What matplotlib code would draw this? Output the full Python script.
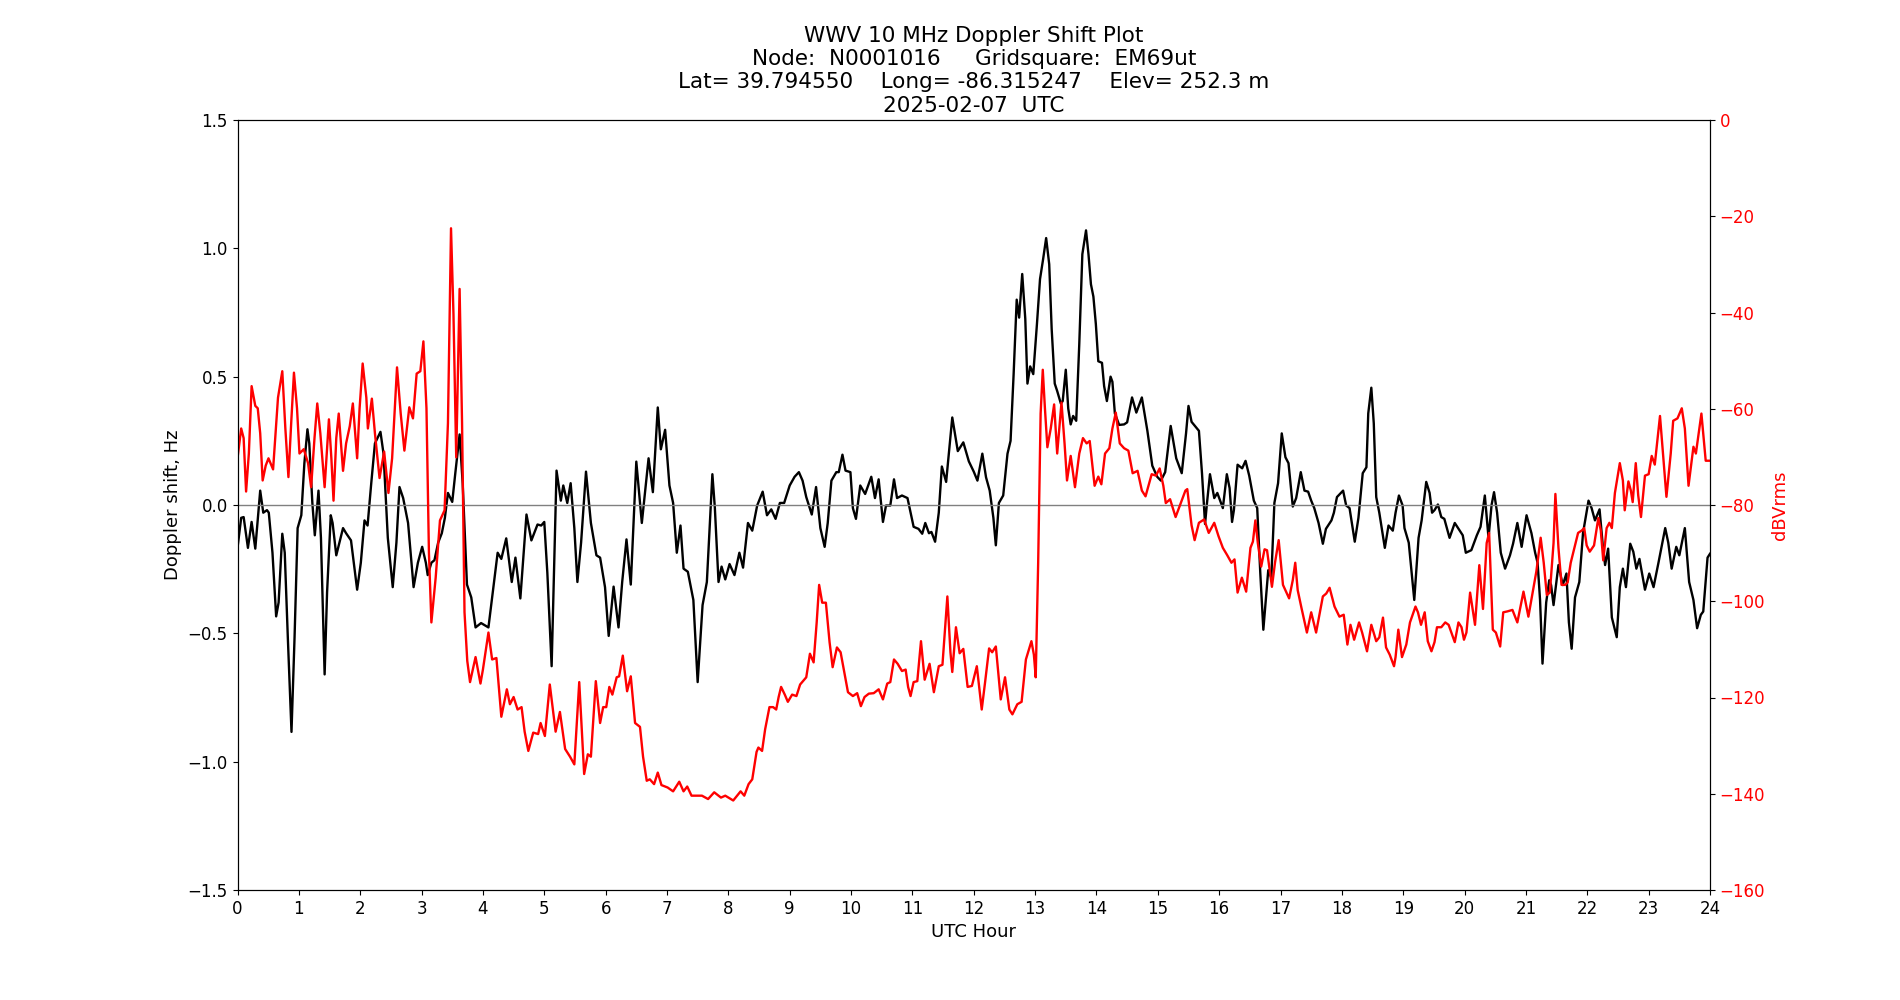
import matplotlib
matplotlib.use("Agg")
import matplotlib.pyplot as plt

# ---------------- data ----------------
doppler_hours = [
    0.0, 0.06, 0.1, 0.17, 0.23, 0.29, 0.37, 0.42, 0.48, 0.51, 0.57, 0.63, 0.67, 0.73, 0.77, 0.82, 0.88, 0.93, 0.98,
    1.04, 1.09, 1.14, 1.17, 1.22, 1.26, 1.32, 1.36, 1.42, 1.46, 1.52, 1.55, 1.61, 1.66, 1.72, 1.77, 1.85, 1.95,
    2.01, 2.07, 2.12, 2.18, 2.24, 2.33, 2.38, 2.45, 2.53, 2.59, 2.64, 2.7, 2.78, 2.87, 2.94,
    3.01, 3.07, 3.1, 3.16, 3.21, 3.27, 3.33, 3.38, 3.43, 3.5, 3.55, 3.62, 3.67, 3.74, 3.81, 3.88, 3.97,
    4.04, 4.09, 4.17, 4.24, 4.3, 4.38, 4.47, 4.53, 4.61, 4.71, 4.79, 4.89, 4.95,
    5.0, 5.05, 5.12, 5.2, 5.27, 5.31, 5.375, 5.43, 5.49, 5.54, 5.6, 5.68, 5.76, 5.85, 5.91, 5.99,
    6.05, 6.13, 6.21, 6.27, 6.34, 6.41, 6.5, 6.59, 6.7, 6.77, 6.85, 6.9, 6.97,
    7.04, 7.1, 7.16, 7.22, 7.27, 7.34, 7.43, 7.5, 7.58, 7.65, 7.74, 7.78, 7.84, 7.89, 7.95,
    8.02, 8.1, 8.18, 8.24, 8.32, 8.39, 8.47, 8.56, 8.63, 8.7, 8.77, 8.84, 8.91,
    9.0, 9.08, 9.15, 9.21, 9.27, 9.36, 9.43, 9.5, 9.57, 9.62, 9.68, 9.76, 9.8, 9.86, 9.91, 9.99,
    10.03, 10.08, 10.15, 10.23, 10.33, 10.39, 10.45, 10.52, 10.57, 10.64, 10.7, 10.75, 10.83, 10.92, 10.97,
    11.02, 11.1, 11.16, 11.21, 11.27, 11.31, 11.37, 11.43, 11.48, 11.55, 11.65, 11.74, 11.83, 11.92,
    12.0, 12.06, 12.14, 12.2, 12.26, 12.32, 12.36, 12.41, 12.48, 12.55, 12.6, 12.65, 12.7, 12.74, 12.79, 12.84,
    12.875, 12.92, 12.97, 13.03, 13.08, 13.13, 13.18, 13.23, 13.27, 13.32, 13.36, 13.42, 13.45, 13.5, 13.54,
    13.58, 13.62, 13.67, 13.72, 13.77, 13.83, 13.87, 13.91, 13.95, 13.99, 14.03, 14.09, 14.125, 14.17, 14.23,
    14.26, 14.3, 14.37, 14.45, 14.5, 14.58, 14.65, 14.74, 14.83, 14.91, 14.99, 15.05, 15.12, 15.21, 15.3, 15.39,
    15.46, 15.5, 15.55, 15.67, 15.72, 15.77, 15.8, 15.85, 15.92, 15.97,
    16.06, 16.125, 16.17, 16.21, 16.24, 16.3, 16.375, 16.43, 16.49, 16.565, 16.62, 16.67, 16.72, 16.77, 16.8,
    16.85, 16.9, 16.96, 17.02, 17.08, 17.13, 17.2, 17.255, 17.33, 17.39, 17.45, 17.5, 17.55, 17.62, 17.69, 17.74,
    17.83, 17.87, 17.92, 18.02, 18.07, 18.125, 18.21, 18.27, 18.34, 18.4, 18.43, 18.48, 18.52, 18.56, 18.61,
    18.7, 18.76, 18.83, 18.875, 18.93, 18.99, 19.02, 19.09, 19.18, 19.25, 19.3, 19.375, 19.43, 19.47, 19.51,
    19.565, 19.62, 19.67, 19.755, 19.84, 19.92, 19.97,
    20.02, 20.11, 20.2, 20.26, 20.33, 20.39, 20.44, 20.48, 20.53, 20.59, 20.66, 20.74, 20.79, 20.86, 20.93,
    21.01, 21.09, 21.15, 21.19, 21.23, 21.27, 21.33, 21.38, 21.41, 21.45, 21.53, 21.6, 21.66, 21.7, 21.745, 21.8,
    21.87, 21.93, 22.02, 22.07, 22.125, 22.2, 22.25, 22.29, 22.34, 22.4, 22.48, 22.53, 22.58, 22.63, 22.7, 22.75,
    22.8, 22.85, 22.94, 23.01, 23.08, 23.16, 23.27, 23.32, 23.375, 23.45, 23.5, 23.59, 23.66, 23.73, 23.79,
    23.85, 23.89, 23.96, 24.0,
]
doppler_hz = [
    -0.167, -0.05, -0.047, -0.167, -0.066, -0.17, 0.056, -0.03, -0.02, -0.03, -0.186, -0.434, -0.38, -0.112, -0.186, -0.515, -0.884, -0.515, -0.09,
    -0.04, 0.163, 0.295, 0.24, 0.008, -0.118, 0.056, -0.128, -0.66, -0.34, -0.04, -0.07, -0.196, -0.147, -0.09, -0.11, -0.138, -0.33,
    -0.225, -0.06, -0.08, 0.085, 0.24, 0.285, 0.2, -0.128, -0.32, -0.147, 0.07, 0.027, -0.07, -0.32, -0.225,
    -0.163, -0.225, -0.273, -0.225, -0.215, -0.147, -0.11, -0.05, 0.047, 0.012, 0.124, 0.275, 0.085, -0.31, -0.36, -0.477, -0.46,
    -0.47, -0.477, -0.32, -0.186, -0.21, -0.13, -0.3, -0.205, -0.364, -0.037, -0.138, -0.076, -0.08,
    -0.066, -0.264, -0.628, 0.134, 0.017, 0.076, 0.008, 0.085, -0.09, -0.3, -0.147, 0.13, -0.07, -0.196, -0.205, -0.32,
    -0.51, -0.318, -0.477, -0.3, -0.134, -0.31, 0.169, -0.07, 0.182, 0.05, 0.38, 0.217, 0.293,
    0.076, 0.008, -0.186, -0.08, -0.248, -0.26, -0.37, -0.69, -0.39, -0.3, 0.12, -0.01, -0.3, -0.24, -0.29,
    -0.23, -0.273, -0.186, -0.244, -0.07, -0.1, -0.002, 0.052, -0.04, -0.017, -0.054, 0.008, 0.008,
    0.076, 0.11, 0.128, 0.095, 0.031, -0.037, 0.07, -0.09, -0.163, -0.07, 0.095, 0.128, 0.128, 0.196, 0.134, 0.128,
    -0.012, -0.054, 0.076, 0.043, 0.11, 0.027, 0.1, -0.066, -0.002, -0.002, 0.1, 0.027, 0.037, 0.027, -0.03,
    -0.085, -0.093, -0.112, -0.07, -0.11, -0.105, -0.143, -0.03, 0.15, 0.09, 0.341, 0.21, 0.244, 0.17,
    0.13, 0.095, 0.2, 0.108, 0.056, -0.05, -0.157, 0.008, 0.037, 0.2, 0.25, 0.51, 0.8, 0.73, 0.9, 0.725,
    0.473, 0.54, 0.51, 0.705, 0.88, 0.957, 1.04, 0.938, 0.686, 0.473, 0.444, 0.395, 0.405, 0.527, 0.376,
    0.314, 0.347, 0.328, 0.628, 0.977, 1.07, 0.977, 0.86, 0.812, 0.705, 0.56, 0.554, 0.463, 0.405, 0.5,
    0.48, 0.357, 0.312, 0.314, 0.322, 0.419, 0.36, 0.419, 0.289, 0.153, 0.11, 0.095, 0.128, 0.308, 0.182, 0.124,
    0.279, 0.386, 0.324, 0.289, 0.124, -0.074, 0.004, 0.12, 0.027, 0.047,
    -0.012, 0.12, 0.066, -0.066, -0.02, 0.157, 0.143, 0.172, 0.114, 0.017, -0.012, -0.264, -0.486, -0.34, -0.254,
    -0.283, 0.008, 0.085, 0.279, 0.186, 0.163, -0.006, 0.027, 0.128, 0.056, 0.052, 0.017, -0.012, -0.07, -0.151, -0.093,
    -0.06, -0.03, 0.031, 0.056, -0.002, -0.012, -0.143, -0.05, 0.124, 0.147, 0.357, 0.457, 0.318, 0.031, -0.03,
    -0.167, -0.08, -0.1, -0.03, 0.037, -0.002, -0.09, -0.147, -0.37, -0.128, -0.06, 0.09, 0.047, -0.03, -0.02,
    0.002, -0.047, -0.054, -0.128, -0.07, -0.1, -0.118,
    -0.186, -0.176, -0.118, -0.085, 0.037, -0.128, 0.0, 0.05, -0.03, -0.186, -0.248, -0.196, -0.151, -0.07, -0.163,
    -0.04, -0.11, -0.186, -0.225, -0.37, -0.618, -0.38, -0.293, -0.312, -0.39, -0.234, -0.312, -0.267, -0.457, -0.56, -0.36,
    -0.3, -0.11, 0.017, -0.012, -0.06, -0.017, -0.151, -0.234, -0.17, -0.438, -0.515, -0.32, -0.248, -0.32, -0.151, -0.182,
    -0.248, -0.21, -0.33, -0.267, -0.32, -0.225, -0.09, -0.147, -0.248, -0.163, -0.196, -0.09, -0.3, -0.37, -0.48,
    -0.428, -0.415, -0.205, -0.19,
]

power_hours = [
    0.0, 0.06, 0.1, 0.14, 0.185, 0.23, 0.29, 0.33, 0.37, 0.41, 0.46, 0.505, 0.58, 0.66, 0.73, 0.78, 0.83, 0.875, 0.92, 0.97,
    1.01, 1.08, 1.15, 1.2, 1.255, 1.3, 1.35, 1.42, 1.49, 1.53, 1.565, 1.61, 1.65, 1.72, 1.77, 1.83, 1.88, 1.95, 1.99,
    2.04, 2.1, 2.125, 2.19, 2.24, 2.315, 2.39, 2.46, 2.52, 2.6, 2.66, 2.72, 2.8, 2.86, 2.92, 2.98,
    3.03, 3.08, 3.12, 3.16, 3.23, 3.3, 3.375, 3.43, 3.48, 3.52, 3.565, 3.62, 3.66, 3.7, 3.745, 3.79, 3.88, 3.96,
    4.0, 4.09, 4.15, 4.22, 4.3, 4.39, 4.44, 4.5, 4.565, 4.63, 4.68, 4.74, 4.82, 4.9, 4.94,
    5.01, 5.09, 5.185, 5.255, 5.34, 5.42, 5.49, 5.57, 5.65, 5.71, 5.76, 5.84, 5.91, 5.96,
    6.01, 6.06, 6.11, 6.18, 6.22, 6.28, 6.35, 6.41, 6.48, 6.56, 6.61, 6.67, 6.72, 6.79, 6.85, 6.91,
    7.01, 7.1, 7.2, 7.27, 7.33, 7.4, 7.57, 7.67, 7.77, 7.88, 7.95,
    8.08, 8.2, 8.26, 8.33, 8.39, 8.46, 8.49, 8.55, 8.6, 8.67, 8.73, 8.78, 8.82, 8.86, 8.92, 8.97,
    9.04, 9.11, 9.17, 9.27, 9.33, 9.39, 9.44, 9.48, 9.53, 9.59, 9.65, 9.7, 9.77, 9.83, 9.89, 9.95,
    10.03, 10.1, 10.16, 10.22, 10.29, 10.37, 10.45, 10.52, 10.59, 10.64, 10.7, 10.76, 10.83, 10.89, 10.93, 10.97,
    11.02, 11.08, 11.14, 11.2, 11.28, 11.35, 11.43, 11.49, 11.57, 11.62, 11.65, 11.71, 11.77, 11.83, 11.9, 11.97,
    12.05, 12.13, 12.185, 12.25, 12.3, 12.36, 12.44, 12.51, 12.58, 12.63, 12.71, 12.78, 12.85, 12.94, 12.98,
    13.01, 13.05, 13.09, 13.125, 13.16, 13.2, 13.255, 13.31, 13.36, 13.43, 13.48, 13.52, 13.58, 13.65, 13.72,
    13.78, 13.84, 13.89, 13.97, 14.03, 14.08, 14.14, 14.21, 14.26, 14.315, 14.38, 14.45, 14.52, 14.59, 14.67,
    14.74, 14.8, 14.9, 14.97, 15.03, 15.09, 15.13, 15.2, 15.29, 15.375, 15.45, 15.48, 15.55, 15.6, 15.67, 15.755,
    15.83, 15.92, 15.99,
    16.06, 16.13, 16.2, 16.25, 16.3, 16.37, 16.44, 16.51, 16.55, 16.59, 16.63, 16.685, 16.74, 16.78, 16.86, 16.91, 16.97,
    17.04, 17.14, 17.2, 17.24, 17.28, 17.34, 17.43, 17.5, 17.58, 17.69, 17.745, 17.8, 17.88, 17.96,
    18.03, 18.09, 18.14, 18.2, 18.28, 18.33, 18.41, 18.48, 18.56, 18.61, 18.67, 18.72, 18.78, 18.85, 18.875, 18.92, 18.98,
    19.05, 19.11, 19.2, 19.24, 19.29, 19.35, 19.4, 19.46, 19.51, 19.55, 19.62, 19.685, 19.74, 19.84, 19.9, 19.95, 19.99,
    20.03, 20.09, 20.17, 20.24, 20.3, 20.36, 20.4, 20.46, 20.51, 20.58, 20.63, 20.7, 20.78, 20.86, 20.96,
    21.04, 21.11, 21.17, 21.24, 21.29, 21.34, 21.39, 21.45, 21.48, 21.53, 21.58, 21.64, 21.68, 21.73, 21.8, 21.85,
    21.91, 21.95, 21.99, 22.04, 22.11, 22.18, 22.22, 22.26, 22.315, 22.36, 22.4, 22.45, 22.53, 22.58, 22.61, 22.67,
    22.71, 22.74, 22.79, 22.83, 22.875, 22.94, 23.0, 23.05, 23.1, 23.185, 23.24, 23.29, 23.36, 23.4, 23.47, 23.54,
    23.59, 23.65, 23.73, 23.77, 23.86, 23.93, 24.0,
]
power_db = [
    -70.3, -64.1, -66.1, -77.2, -69.3, -55.3, -59.4, -59.9, -65.1, -74.9, -71.8, -70.3, -72.6, -57.7, -52.2, -64.1, -74.2, -63.0, -52.5, -59.9,
    -69.3, -68.4, -71.3, -76.3, -66.1, -58.9, -65.1, -76.3, -62.2, -70.3, -79.1, -66.1, -61.0, -72.9, -67.2, -63.6, -58.9, -70.3, -59.9,
    -50.6, -57.7, -64.1, -57.9, -65.1, -74.4, -68.9, -77.5, -70.3, -51.4, -61.0, -68.7, -59.7, -62.0, -52.7, -52.2,
    -46.0, -59.9, -89.9, -104.4, -95.1, -83.2, -81.1, -63.0, -22.5, -40.3, -70.1, -35.1, -63.0, -102.3, -112.4, -116.8, -111.6, -117.1,
    -114.2, -106.5, -112.1, -111.8, -124.0, -118.3, -121.4, -119.9, -122.5, -122.0, -127.1, -131.1, -127.3, -127.6, -125.3,
    -128.0, -117.3, -127.1, -123.0, -130.7, -132.3, -133.9, -116.8, -135.9, -131.8, -132.3, -116.6, -125.3, -122.0,
    -122.0, -117.8, -119.4, -115.8, -115.6, -111.3, -118.7, -115.6, -125.3, -126.1, -132.3, -137.3, -137.0, -138.0, -135.6, -138.2,
    -138.7, -139.5, -137.5, -139.5, -138.5, -140.4, -140.4, -141.1, -139.7, -140.8, -140.4,
    -141.4, -139.5, -140.4, -138.0, -137.0, -131.3, -130.4, -131.1, -126.6, -122.0, -122.0, -122.5, -119.9, -117.8, -119.4, -120.9,
    -119.4, -119.7, -117.3, -115.8, -110.9, -112.7, -104.4, -96.6, -100.3, -100.3, -108.5, -113.7, -109.6, -110.6, -114.7, -118.9,
    -119.7, -119.1, -121.8, -119.9, -119.2, -119.1, -118.3, -120.4, -117.1, -116.8, -112.1, -113.0, -114.5, -114.2, -117.8, -119.7,
    -116.8, -116.6, -108.3, -116.3, -113.0, -118.9, -113.5, -113.2, -99.0, -110.6, -114.7, -105.4, -110.8, -109.9, -117.8, -117.6,
    -113.5, -122.5, -116.8, -109.8, -110.6, -109.4, -120.4, -115.8, -122.5, -123.5, -121.4, -120.9, -112.1, -108.3, -111.1,
    -115.8, -92.0, -61.0, -51.9, -59.9, -68.0, -64.1, -59.1, -69.3, -58.7, -67.2, -74.9, -69.8, -76.3, -69.3,
    -66.1, -67.2, -66.7, -76.0, -74.1, -75.7, -69.3, -68.2, -64.1, -60.8, -67.2, -68.2, -68.7, -73.4, -72.9,
    -77.0, -78.2, -73.6, -73.9, -72.4, -76.0, -79.6, -78.8, -82.5, -79.6, -77.0, -76.7, -84.2, -87.3, -83.7, -83.0,
    -85.8, -83.7, -86.5,
    -88.9, -90.4, -92.0, -91.3, -98.2, -95.1, -98.0, -88.9, -87.6, -83.2, -87.9, -92.8, -89.2, -89.4, -97.0, -92.0, -87.3,
    -96.6, -99.4, -95.6, -92.0, -97.7, -101.3, -106.5, -102.3, -106.5, -99.0, -98.4, -97.2, -101.1, -103.2,
    -102.8, -109.0, -104.9, -108.0, -104.4, -106.5, -110.4, -104.9, -108.3, -107.5, -103.4, -109.6, -111.1, -113.5, -111.6, -105.9, -111.6,
    -109.0, -104.4, -101.1, -102.3, -104.9, -102.3, -108.3, -110.4, -108.5, -105.4, -105.4, -104.4, -104.9, -108.5, -104.4, -105.4, -108.0,
    -106.5, -98.2, -104.9, -92.5, -101.6, -87.9, -85.8, -105.9, -106.5, -109.4, -102.3, -102.1, -101.8, -104.4, -98.0,
    -103.2, -98.2, -93.8, -86.8, -92.0, -98.7, -98.2, -87.9, -77.7, -88.9, -96.6, -96.6, -96.1, -92.0, -88.4, -85.8,
    -85.3, -84.8, -88.4, -89.7, -88.4, -82.7, -85.3, -91.5, -84.8, -83.7, -84.8, -77.5, -71.3, -74.9, -81.1, -75.1,
    -77.0, -79.4, -71.3, -78.0, -82.5, -73.9, -73.6, -69.8, -71.6, -61.5, -70.3, -78.3, -69.3, -62.5, -62.0, -59.9,
    -64.1, -76.0, -67.9, -69.3, -61.0, -70.8, -70.8,
]

hour_ticks = list(range(0, 25))
doppler_ticks = [-1.5, -1.0, -0.5, 0.0, 0.5, 1.0, 1.5]
power_ticks = [-160, -140, -120, -100, -80, -60, -40, -20, 0]

title_text = ("WWV 10 MHz Doppler Shift Plot\n"
              "Node:  N0001016     Gridsquare:  EM69ut\n"
              "Lat= 39.794550    Long= -86.315247    Elev= 252.3 m\n"
              "2025-02-07  UTC")

# ---------------- figure ----------------
plt.rcParams['font.family'] = ['DejaVu Sans']
fig = plt.figure(figsize=(19, 10), dpi=100)
ax = fig.add_subplot(111)
fig.subplots_adjust(left=0.125, right=0.9, bottom=0.11, top=0.88)

ax.plot(doppler_hours, doppler_hz, color='black', linewidth=1.7, solid_joinstyle='round')
ax.axhline(0, color='gray', linewidth=1.0)
ax.set_xlim(0, 24)
ax.set_ylim(-1.5, 1.5)
ax.set_xticks(hour_ticks)
ax.set_yticks(doppler_ticks)
ax.tick_params(axis='both', labelsize=12)
ax.set_xlabel('UTC Hour', fontsize=13)
ax.set_ylabel('Doppler shift, Hz', fontsize=13)
ax.set_title(title_text, fontsize=15.5)

ax2 = ax.twinx()
ax2.plot(power_hours, power_db, color='red', linewidth=1.7, solid_joinstyle='round')
ax2.set_ylim(-160, 0)
ax2.set_yticks(power_ticks)
ax2.tick_params(axis='y', labelsize=12, labelcolor='red')
ax2.set_ylabel('dBVrms', color='red', fontsize=13)

fig.savefig('out.png', dpi=100)
